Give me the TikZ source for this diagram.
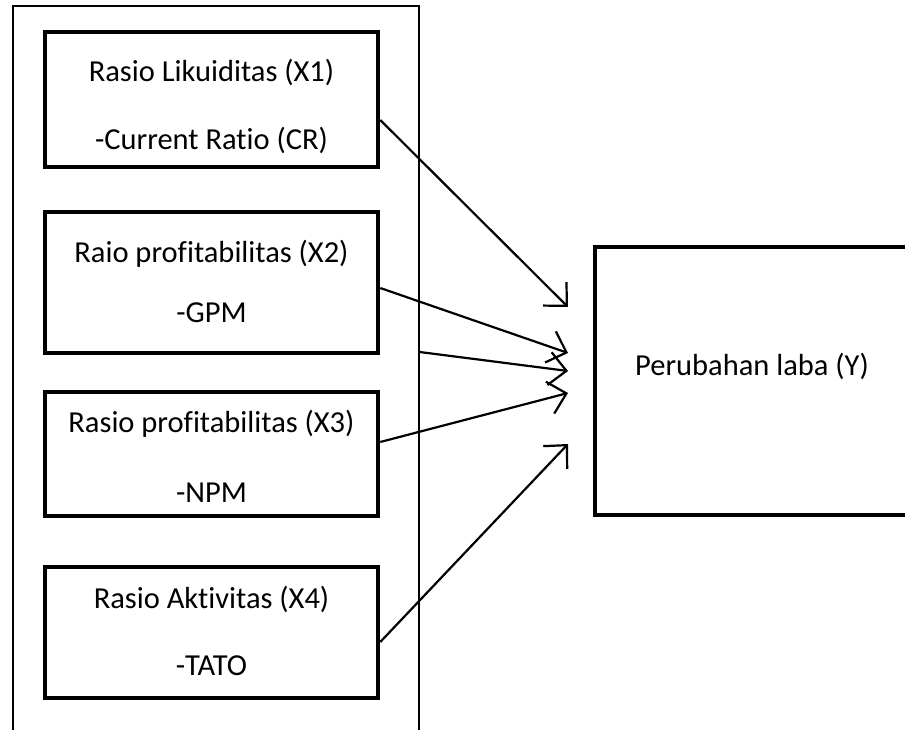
\documentclass[tikz,border=0pt]{standalone}
\usepackage{fontspec}
\setmainfont{Carlito}[Ligatures=CommonOff]
\usetikzlibrary{arrows.meta}
\begin{document}
\begin{tikzpicture}[x=1pt,y=-1pt,
  varbox/.style={draw=black,line width=4.5pt,rectangle,inner sep=0pt,minimum width=333pt},
  frame/.style={draw=black,line width=1.3pt,rectangle,inner sep=0pt},
  lbl/.style={anchor=base,inner sep=0pt,font=\fontsize{30.5}{36}\selectfont},
  arr/.style={draw=black,line width=2.2pt,-{Straight Barb[length=17pt,width=33pt,line width=2.2pt]}}]
\clip (0,0) rectangle (905,730);
\fill[white] (0,0) rectangle (905,730);
% outer frame
\node[frame,minimum width=406pt,minimum height=734pt] (fr) at (216,373) {};
% variable boxes
\node[varbox,minimum height=135pt] (b1) at (211.5,99.5) {};
\node[varbox,minimum height=141pt] (b2) at (211.5,282.5) {};
\node[varbox,minimum height=124pt] (b3) at (211.5,454) {};
\node[varbox,minimum height=131pt] (b4) at (211.5,632.5) {};
\node[draw=black,line width=4.5pt,rectangle,inner sep=0pt,minimum width=320pt,minimum height=268pt] (y) at (755,381) {};
% labels
\node[lbl] (t1a) at (211.5,82) {Rasio Likuiditas (X1)};
\node[lbl] (t1b) at (211.5,150) {-Current Ratio (CR)};
\node[lbl] (t2a) at (211.5,262) {Raio profitabilitas (X2)};
\node[lbl] (t2b) at (211.5,322) {-GPM};
\node[lbl] (t3a) at (211.5,432) {Rasio profitabilitas (X3)};
\node[lbl] (t3b) at (211.5,502) {-NPM};
\node[lbl] (t4a) at (211.5,608) {Rasio Aktivitas (X4)};
\node[lbl] (t4b) at (211.5,675) {-TATO};
\node[lbl] (ty) at (752,375) {Perubahan laba (Y)};
% arrow tips
\coordinate (p1) at (568,307);
\coordinate (p2) at (568,353);
\coordinate (p3) at (568,371);
\coordinate (p4) at (568,393);
\coordinate (p5) at (568,444);
% arrows
\draw[arr] ([yshift=-20.5pt]b1.east) -- (p1);
\draw[arr] ([yshift=-5.5pt]b2.east) -- (p2);
\draw[arr] ([yshift=21pt]fr.east) -- (p3);
\draw[arr] ([yshift=12pt]b3.east) -- (p4);
\draw[arr] ([yshift=-9.5pt]b4.east) -- (p5);
\end{tikzpicture}
\end{document}
